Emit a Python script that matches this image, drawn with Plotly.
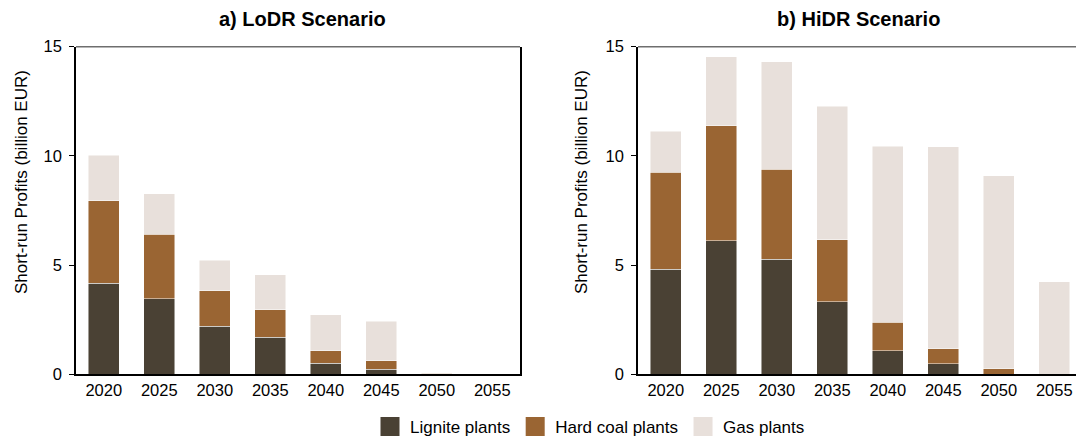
import plotly.graph_objects as go

years = ["2020", "2025", "2030", "2035", "2040", "2045", "2050", "2055"]

# a) LoDR Scenario (billion EUR)
lodr_lignite = [4.17, 3.45, 2.20, 1.69, 0.50, 0.23, 0.0, 0.0]
lodr_hardcoal = [3.77, 2.96, 1.63, 1.26, 0.57, 0.38, 0.05, 0.0]
lodr_gas = [2.10, 1.85, 1.39, 1.61, 1.65, 1.83, 0.0, 0.0]

# b) HiDR Scenario (billion EUR)
hidr_lignite = [4.81, 6.12, 5.26, 3.33, 1.08, 0.49, 0.0, 0.0]
hidr_hardcoal = [4.45, 5.25, 4.12, 2.82, 1.30, 0.67, 0.26, 0.0]
hidr_gas = [1.88, 3.16, 4.93, 6.12, 8.06, 9.25, 8.82, 4.23]

series_names = ["Lignite plants", "Hard coal plants", "Gas plants"]
colors = ["#4a4134", "#9a6533", "#e8e0db"]

FONT = "Liberation Sans, Arial, sans-serif"
W, H = 1076, 439

fig = go.Figure()

panels = [
    ("x", "y", [lodr_lignite, lodr_hardcoal, lodr_gas]),
    ("x2", "y2", [hidr_lignite, hidr_hardcoal, hidr_gas]),
]
for xa, ya, data in panels:
    for name, col, vals in zip(series_names, colors, data):
        fig.add_trace(go.Bar(
            x=years, y=vals, name=name, xaxis=xa, yaxis=ya,
            marker=dict(color=col, line=dict(color="rgba(255,255,255,0.8)", width=0.6)),
            width=0.555, showlegend=False,
        ))

# legend entries
for name, col in zip(series_names, colors):
    fig.add_trace(go.Scatter(
        x=[None], y=[None], mode="markers", name=name,
        marker=dict(symbol="square", size=16, color=col, line=dict(color=col, width=3)),
        showlegend=True, xaxis="x", yaxis="y",
    ))

y_dom = [(H - 374.3) / H, (H - 46.7) / H]
left_dom = [76 / W, 520 / W]
right_dom = [638 / W, 1.0]

common_x = dict(
    type="category", showline=True, linecolor="black", linewidth=1.5,
    ticks="", showgrid=False, zeroline=False,
    tickfont=dict(family=FONT, size=16.5, color="black"),
)
common_y = dict(
    range=[0, 15], tickvals=[0, 5, 10, 15], showline=True, linecolor="black",
    linewidth=1.5, ticks="outside", ticklen=5, tickcolor="black", tickwidth=1.2,
    showgrid=False, zeroline=False, ticklabelstandoff=4,
    tickfont=dict(family=FONT, size=16.5, color="black"),
)

right_span = (W - 638) / 55.5

fig.update_layout(
    width=W, height=H,
    margin=dict(l=0, r=0, t=0, b=0, autoexpand=False),
    paper_bgcolor="white", plot_bgcolor="white",
    barmode="stack", bargap=0.445,
    xaxis=dict(domain=left_dom, range=[-0.5, 7.5], anchor="y", **common_x),
    yaxis=dict(domain=y_dom, anchor="x", mirror=True, **common_y),
    xaxis2=dict(domain=right_dom, range=[-0.5, -0.5 + right_span], anchor="y2", **common_x),
    yaxis2=dict(domain=y_dom, anchor="x2", mirror=False, **common_y),
    legend=dict(
        orientation="h", x=590 / W, xanchor="center", y=(H - 427) / H, yanchor="middle",
        font=dict(family=FONT, size=17, color="black"), bgcolor="rgba(0,0,0,0)",
        itemwidth=30, tracegroupgap=0, traceorder="normal",
    ),
    shapes=[
        dict(type="line", xref="x domain", yref="y domain", x0=0, x1=1, y0=1, y1=1,
             line=dict(color="#6e6e6e", width=1.5)),
        dict(type="line", xref="x2 domain", yref="y2 domain", x0=0, x1=1, y0=1, y1=1,
             line=dict(color="#6e6e6e", width=1.5)),
    ],
    annotations=[
        dict(text="<b>a) LoDR Scenario</b>", x=302 / W, y=(H - 19) / H, xref="paper", yref="paper",
             showarrow=False, xanchor="center", yanchor="middle",
             font=dict(family=FONT, size=20, color="black")),
        dict(text="<b>b) HiDR Scenario</b>", x=858 / W, y=(H - 19) / H, xref="paper", yref="paper",
             showarrow=False, xanchor="center", yanchor="middle",
             font=dict(family=FONT, size=20, color="black")),
        dict(text="Short-run Profits (billion EUR)", x=21 / W, y=(H - 182) / H, xref="paper",
             yref="paper", showarrow=False, textangle=-90, xanchor="center", yanchor="middle",
             font=dict(family=FONT, size=17, color="black")),
        dict(text="Short-run Profits (billion EUR)", x=581 / W, y=(H - 182) / H, xref="paper",
             yref="paper", showarrow=False, textangle=-90, xanchor="center", yanchor="middle",
             font=dict(family=FONT, size=17, color="black")),
    ],
)

fig.write_html("out.html")
